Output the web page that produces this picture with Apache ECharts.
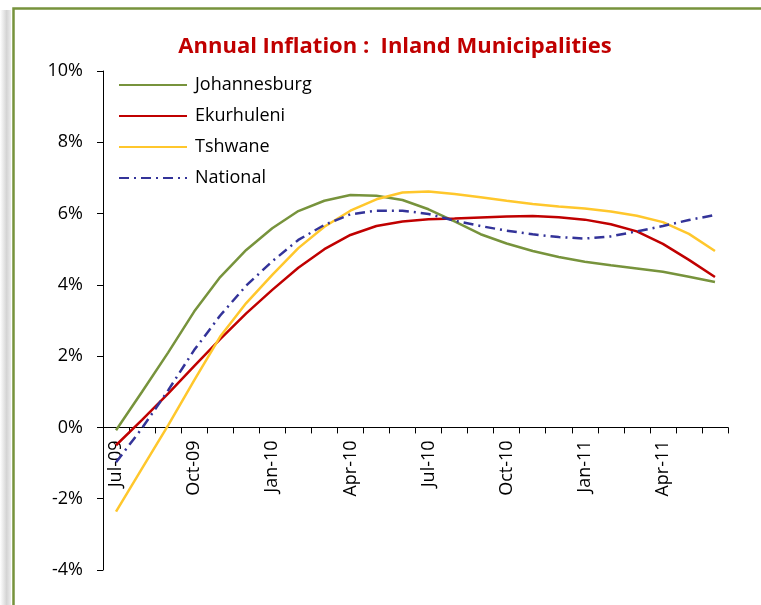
<!DOCTYPE html>
<html>
<head>
<meta charset="utf-8">
<script src="https://cdn.jsdelivr.net/npm/echarts@6/dist/echarts.min.js"></script>
<style>
  html, body { margin: 0; padding: 0; background: #fff; }
  #chart { width: 761px; height: 605px; }
</style>
</head>
<body>
<div id="chart"></div>
<script>
// monthly, Jul-09 .. Jun-11
var months = ['Jul-09', 'Aug-09', 'Sep-09', 'Oct-09', 'Nov-09', 'Dec-09',
  'Jan-10', 'Feb-10', 'Mar-10', 'Apr-10', 'May-10', 'Jun-10',
  'Jul-10', 'Aug-10', 'Sep-10', 'Oct-10', 'Nov-10', 'Dec-10',
  'Jan-11', 'Feb-11', 'Mar-11', 'Apr-11', 'May-11', 'Jun-11']

var johannesburg = [-0.08, 1.0, 2.1, 3.25, 4.22, 4.98, 5.59, 6.07, 6.36, 6.52, 6.5, 6.38,
  6.12, 5.78, 5.42, 5.16, 4.95, 4.78, 4.65, 4.55, 4.46, 4.37, 4.23, 4.08]
var ekurhuleni = [-0.5, 0.21, 0.95, 1.72, 2.48, 3.2, 3.86, 4.48, 5.0, 5.4, 5.65, 5.78,
  5.84, 5.86, 5.89, 5.92, 5.93, 5.9, 5.83, 5.7, 5.5, 5.15, 4.7, 4.22]
var tshwane = [-2.36, -1.15, 0.06, 1.32, 2.55, 3.49, 4.28, 5.03, 5.63, 6.08, 6.4, 6.59,
  6.62, 6.55, 6.46, 6.36, 6.27, 6.2, 6.14, 6.06, 5.94, 5.76, 5.43, 4.95]
var national = [-0.98, -0.02, 1.04, 2.17, 3.14, 3.98, 4.66, 5.26, 5.68, 5.98, 6.08, 6.08,
  5.99, 5.8, 5.65, 5.52, 5.42, 5.34, 5.3, 5.36, 5.5, 5.65, 5.82, 5.96]

var yTicks = { min: -4, max: 10, step: 2 }

var font = 'Open Sans'
var gridTop = 71
var gridBottom = 35
var gridH = 605 - gridTop - gridBottom
// category axis sits on the 0% line, with its labels
var xOffset = -gridH * (0 - yTicks.min) / (yTicks.max - yTicks.min)

var chart = echarts.init(document.getElementById('chart'))

chart.setOption({
  backgroundColor: '#fff',
  animation: false,
  title: {
    text: 'Annual Inflation :  Inland Municipalities',
    left: 390,
    textAlign: 'center',
    top: 31,
    textStyle: {
      color: '#C00000',
      fontFamily: font,
      fontWeight: 'bold',
      fontSize: 22
    }
  },
  graphic: [
    {
      // grey shadow along the left edge
      type: 'rect',
      shape: { x: 0, y: 10, width: 11, height: 600 },
      style: {
        fill: new echarts.graphic.LinearGradient(0, 0, 1, 0, [
          { offset: 0, color: '#ffffff' },
          { offset: 0.6, color: '#d4d4d4' },
          { offset: 1, color: '#ececec' }
        ])
      },
      silent: true
    },
    {
      // green slide frame
      type: 'rect',
      shape: { x: 13.5, y: 8.5, width: 800, height: 700 },
      style: { fill: 'none', stroke: '#77933C', lineWidth: 2.5 },
      silent: true
    }
  ],
  legend: {
    orient: 'vertical',
    left: 118,
    top: 76,
    padding: 0,
    itemWidth: 68,
    itemHeight: 18,
    itemGap: 13,
    itemStyle: { opacity: 0 },
    textStyle: {
      fontFamily: font,
      fontSize: 18,
      color: '#000',
      lineHeight: 18,
      padding: [0, 0, 0, 3]
    },
    data: ['Johannesburg', 'Ekurhuleni', 'Tshwane', 'National']
  },
  grid: {
    left: 103,
    right: 33,
    top: gridTop,
    bottom: gridBottom,
    containLabel: false,
    outerBoundsMode: 'none'
  },
  xAxis: {
    type: 'category',
    data: months,
    boundaryGap: true,
    offset: xOffset,
    axisLine: { onZero: false, lineStyle: { color: '#000', width: 1 } },
    axisTick: { show: true, interval: 0, length: 6, lineStyle: { color: '#000' } },
    axisLabel: {
      interval: 2,
      rotate: 90,
      margin: 13,
      fontFamily: font,
      fontSize: 18,
      color: '#000'
    },
    splitLine: { show: false }
  },
  yAxis: {
    type: 'value',
    min: yTicks.min,
    max: yTicks.max,
    interval: yTicks.step,
    axisLine: { show: true, lineStyle: { color: '#000', width: 1 } },
    axisTick: { show: true, length: 6, lineStyle: { color: '#000' } },
    axisLabel: {
      formatter: '{value}%',
      margin: 20,
      fontFamily: font,
      fontSize: 18,
      color: '#000'
    },
    splitLine: { show: false }
  },
  series: [
    {
      name: 'Johannesburg',
      type: 'line',
      data: johannesburg,
      symbol: 'none',
      color: '#77933C',
      lineStyle: { color: '#77933C', width: 2.5 }
    },
    {
      name: 'Ekurhuleni',
      type: 'line',
      data: ekurhuleni,
      symbol: 'none',
      color: '#C00000',
      lineStyle: { color: '#C00000', width: 2.5 }
    },
    {
      name: 'Tshwane',
      type: 'line',
      data: tshwane,
      symbol: 'none',
      color: '#FFC72C',
      lineStyle: { color: '#FFC72C', width: 2.5 }
    },
    {
      name: 'National',
      type: 'line',
      data: national,
      symbol: 'none',
      color: '#333399',
      lineStyle: { color: '#333399', width: 2.5, type: [10, 5, 2, 5] }
    }
  ]
})
</script>
</body>
</html>
